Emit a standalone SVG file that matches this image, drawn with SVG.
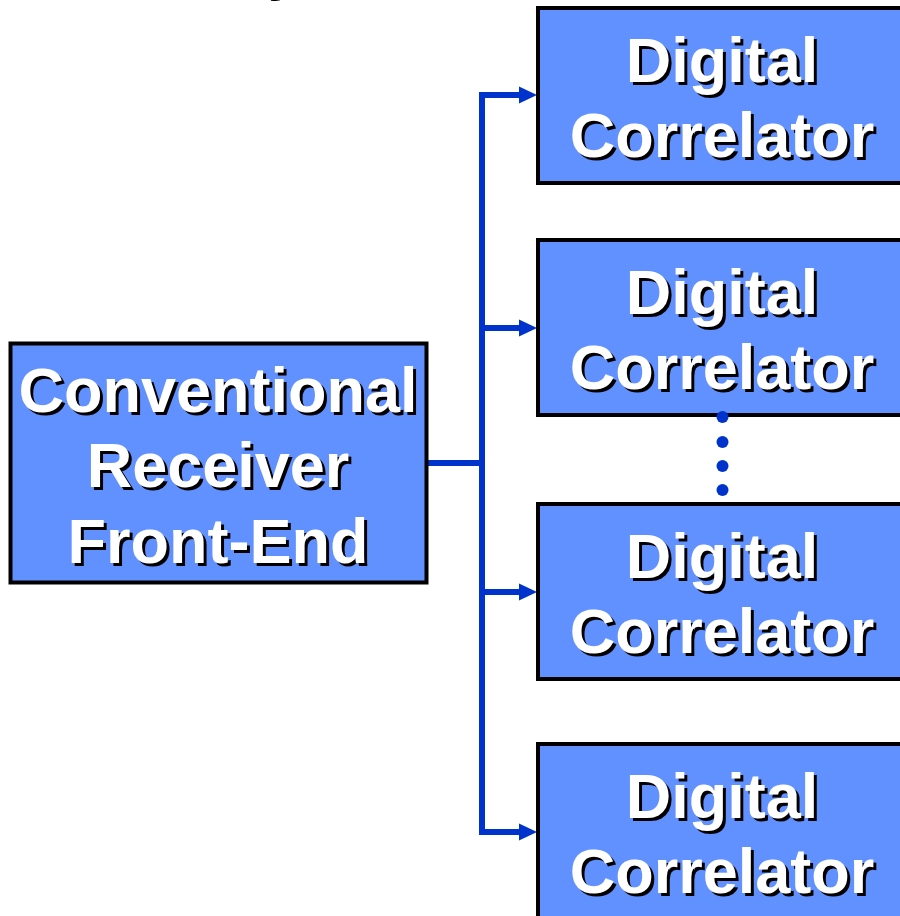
<svg xmlns="http://www.w3.org/2000/svg" width="900" height="916" viewBox="0 0 900 916">
  <defs>
    <style>
      .box { fill: #6190FF; stroke: #000; stroke-width: 4; }
      .lbl { font-family: "Liberation Sans", Arial, sans-serif; font-weight: bold; font-size: 63px; text-anchor: middle; }
      .shadow { fill: #000; }
      .face { fill: #fff; }
      .wire { fill: none; stroke: #0033CC; stroke-width: 6; }
      .head { fill: #0033CC; }
      .dot { fill: #0033CC; }
    </style>
    <path id="arrowhead" class="head" d="M-18,-8.5 L0,0 L-18,8.5 Z"/>
  </defs>
  <rect width="900" height="916" fill="#fff"/>

  <!-- heading above, clipped by the top edge -->
  <text x="268" y="-11" font-family="Liberation Sans, Arial, sans-serif" font-weight="bold" font-size="56" fill="#000">y</text>

  <g id="connectors">
    <path class="wire" d="M427,463 H482"/>
    <path class="wire" d="M482,95 V832"/>
    <path class="wire" d="M479,95 H520"/>
    <path class="wire" d="M479,328 H520"/>
    <path class="wire" d="M479,592 H520"/>
    <path class="wire" d="M479,832 H520"/>
    <use href="#arrowhead" x="537" y="95"/>
    <use href="#arrowhead" x="537" y="328"/>
    <use href="#arrowhead" x="537" y="592"/>
    <use href="#arrowhead" x="537" y="832"/>
  </g>

  <g id="front-end">
    <rect class="box" x="10.5" y="343.5" width="416" height="239"/>
    <g class="lbl shadow" transform="translate(3,3)">
      <text x="218" y="412">Conventional</text>
      <text x="218" y="487">Receiver</text>
      <text x="218" y="563">Front-End</text>
    </g>
    <g class="lbl face">
      <text x="218" y="412">Conventional</text>
      <text x="218" y="487">Receiver</text>
      <text x="218" y="563">Front-End</text>
    </g>
  </g>

  <g id="correlator-1">
    <rect class="box" x="538" y="8" width="370" height="175"/>
    <g class="lbl shadow" transform="translate(3,3)"><text x="722" y="82">Digital</text><text x="722" y="157">Correlator</text></g>
    <g class="lbl face"><text x="722" y="82">Digital</text><text x="722" y="157">Correlator</text></g>
  </g>

  <g id="correlator-2">
    <rect class="box" x="538" y="240" width="370" height="175"/>
    <g class="lbl shadow" transform="translate(3,3)"><text x="722" y="314">Digital</text><text x="722" y="389">Correlator</text></g>
    <g class="lbl face"><text x="722" y="314">Digital</text><text x="722" y="389">Correlator</text></g>
  </g>

  <g id="ellipsis">
    <circle class="dot" cx="722.5" cy="417" r="6"/>
    <circle class="dot" cx="722.5" cy="442" r="6"/>
    <circle class="dot" cx="722.5" cy="466" r="6"/>
    <circle class="dot" cx="722.5" cy="490" r="6"/>
  </g>

  <g id="correlator-3">
    <rect class="box" x="538" y="504" width="370" height="175"/>
    <g class="lbl shadow" transform="translate(3,3)"><text x="722" y="578">Digital</text><text x="722" y="653">Correlator</text></g>
    <g class="lbl face"><text x="722" y="578">Digital</text><text x="722" y="653">Correlator</text></g>
  </g>

  <g id="correlator-4">
    <rect class="box" x="538" y="744" width="370" height="190"/>
    <g class="lbl shadow" transform="translate(3,3)"><text x="722" y="818">Digital</text><text x="722" y="893">Correlator</text></g>
    <g class="lbl face"><text x="722" y="818">Digital</text><text x="722" y="893">Correlator</text></g>
  </g>
</svg>
